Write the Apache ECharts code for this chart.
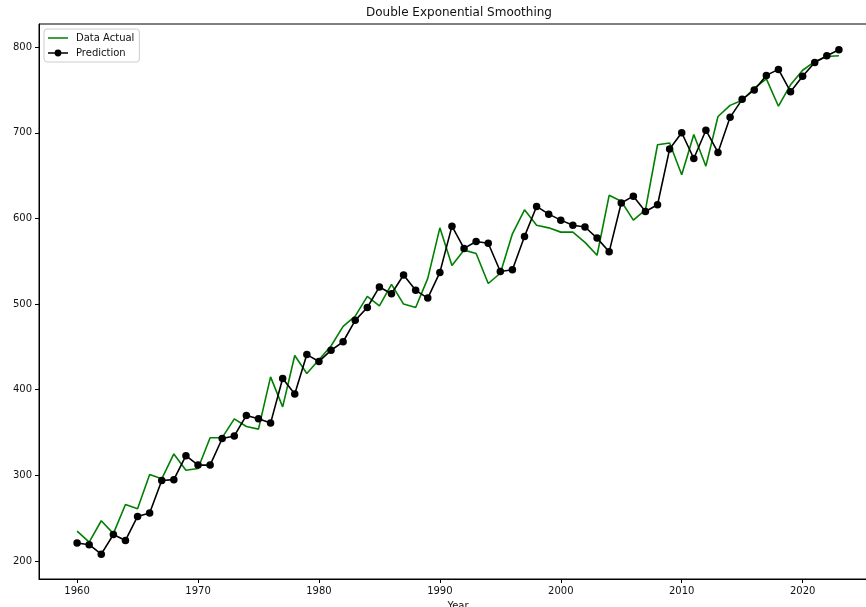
<!DOCTYPE html>
<html>
<head>
<meta charset="utf-8">
<title>Double Exponential Smoothing</title>
<script src="https://cdn.jsdelivr.net/npm/echarts@6/dist/echarts.min.js"></script>
<style>
  html, body { margin: 0; padding: 0; background: #fff; }
  #chart { width: 866px; height: 607px; }
</style>
</head>
<body>
<div id="chart"></div>
<script>
// Yearly observations and the Holt (double exponential) one-step forecasts
const years = [
  1960, 1961, 1962, 1963, 1964, 1965, 1966, 1967, 1968, 1969,
  1970, 1971, 1972, 1973, 1974, 1975, 1976, 1977, 1978, 1979,
  1980, 1981, 1982, 1983, 1984, 1985, 1986, 1987, 1988, 1989,
  1990, 1991, 1992, 1993, 1994, 1995, 1996, 1997, 1998, 1999,
  2000, 2001, 2002, 2003, 2004, 2005, 2006, 2007, 2008, 2009,
  2010, 2011, 2012, 2013, 2014, 2015, 2016, 2017, 2018, 2019,
  2020, 2021, 2022, 2023
];

const actual = [
  235, 222, 247, 232, 266, 261, 301, 296, 325, 306,
  308, 344, 344, 366, 357, 354, 415, 380, 440, 419,
  435, 451, 474, 486, 509, 498, 523, 500, 496, 530,
  589, 545, 563, 559, 524, 536, 582, 610, 592, 589,
  584, 584, 572, 557, 627, 620, 598, 610, 686, 688,
  651, 698, 661, 719, 732, 738, 752, 763, 731, 756,
  773, 783, 789, 790
];

const prediction = [
  221, 219, 208, 231, 224, 252, 256, 294, 295, 323,
  312, 312, 343, 346, 370, 366, 361, 413, 395, 441,
  433, 446, 456, 481, 496, 520, 512, 534, 516, 507,
  537, 591, 565, 573, 571, 538, 540, 579, 614, 605,
  598, 592, 590, 577, 561, 618, 626, 608, 616, 681,
  700, 670, 703, 677, 718, 739, 750, 767, 774, 748,
  766, 782, 790, 797
];

const xTicks = [1960, 1970, 1980, 1990, 2000, 2010, 2020];
const yTicks = [200, 300, 400, 500, 600, 700, 800];

const FONT = 'DejaVu Sans';

// Legend glyphs: a 20x12 box (tiny corner specks fix the box size) holding
// a thin horizontal stroke, plus a dot for the forecast series.
const LINE_ICON = 'path://M0,5.3H20V6.7H0Z M0,0H0.01V0.01H0Z M0,11.99H0.01V12H0Z';
const DOT_ICON = 'path://M0,5.3H20V6.7H0Z M6.6,6A3.4,3.4 0 1,1 13.4,6A3.4,3.4 0 1,1 6.6,6Z ' +
  'M0,0H0.01V0.01H0Z M0,11.99H0.01V12H0Z';

const actualPoints = years.map((y, i) => [y, actual[i]]);
const predictionPoints = years.map((y, i) => [y, prediction[i]]);

const chart = echarts.init(document.getElementById('chart'), null, { renderer: 'canvas' });

chart.setOption({
  animation: false,
  backgroundColor: '#fff',
  title: {
    text: 'Double Exponential Smoothing',
    left: 366,
    top: 7,
    padding: 0,
    textStyle: { fontFamily: FONT, fontSize: 12, fontWeight: 'normal', color: '#111' }
  },
  legend: {
    orient: 'vertical',
    left: 44,
    top: 29,
    padding: [3, 5, 3, 4],
    itemWidth: 20,
    itemHeight: 12,
    itemGap: 3,
    borderColor: '#cccccc',
    borderWidth: 1,
    borderRadius: 3,
    backgroundColor: 'rgba(255,255,255,0.8)',
    textStyle: { fontFamily: FONT, fontSize: 10, color: '#111', padding: [0, 0, 0, 3] },
    data: [
      { name: 'Data Actual', icon: LINE_ICON, itemStyle: { color: '#008000' } },
      { name: 'Prediction', icon: DOT_ICON, itemStyle: { color: '#000' } }
    ]
  },
  grid: {
    left: 39,
    top: 24,
    width: 838,
    height: 555,
    outerBoundsMode: 'none',
    containLabel: false,
    show: true,
    borderColor: '#000',
    borderWidth: 1,
    backgroundColor: 'transparent'
  },
  xAxis: {
    type: 'value',
    min: 1956.85,
    max: 2026.15,
    name: 'Year',
    nameLocation: 'middle',
    nameGap: 22,
    nameTextStyle: { fontFamily: FONT, fontSize: 10, color: '#111' },
    axisLine: { show: true, lineStyle: { color: '#000', width: 1 } },
    axisTick: { show: true, length: 4, lineStyle: { color: '#000' }, customValues: xTicks },
    axisLabel: {
      fontFamily: FONT, fontSize: 10, color: '#111', margin: 7,
      customValues: xTicks,
      formatter: v => String(v)
    },
    splitLine: { show: false }
  },
  yAxis: {
    type: 'value',
    min: 179,
    max: 827,
    axisLine: { show: true, lineStyle: { color: '#000', width: 1 } },
    axisTick: { show: true, length: 4, lineStyle: { color: '#000' }, customValues: yTicks },
    axisLabel: {
      fontFamily: FONT, fontSize: 10, color: '#111', margin: 7,
      customValues: yTicks,
      formatter: v => String(v)
    },
    splitLine: { show: false }
  },
  series: [
    {
      name: 'Data Actual',
      type: 'line',
      data: actualPoints,
      symbol: 'none',
      color: '#008000',
      lineStyle: { color: '#008000', width: 1.6 },
      z: 2
    },
    {
      name: 'Prediction',
      type: 'line',
      data: predictionPoints,
      symbol: 'circle',
      symbolSize: 7.5,
      showSymbol: true,
      color: '#000',
      itemStyle: { color: '#000' },
      lineStyle: { color: '#000', width: 1.6 },
      z: 3
    }
  ]
});
</script>
</body>
</html>
